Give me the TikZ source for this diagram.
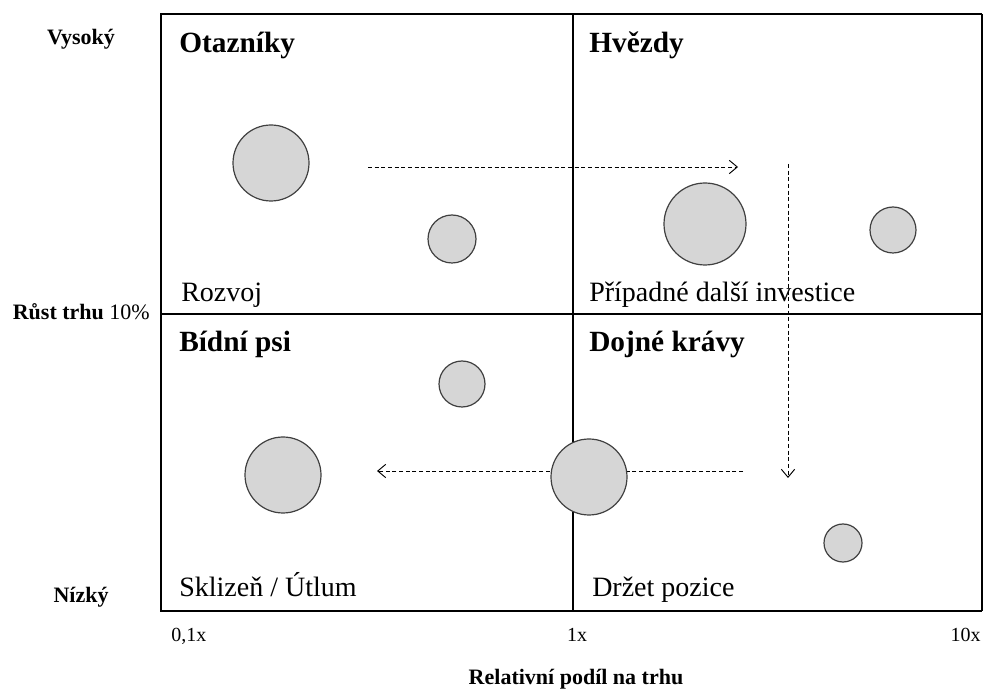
\documentclass[tikz,border=0pt]{standalone}
\usepackage{fontspec}
\setmainfont{Liberation Serif}
\usetikzlibrary{arrows.meta}
\begin{document}
\begin{tikzpicture}[x=0.75pt,y=-0.75pt,
  bubble/.style={circle,draw=black!75,line width=0.9pt,fill=black!16,inner sep=0pt},
  flow/.style={densely dashed,line width=0.7pt,-{Straight Barb[length=6pt,width=10pt]}},
  heading/.style={font=\bfseries\fontsize{22}{24}\selectfont,anchor=base west,inner sep=0pt},
  action/.style={font=\fontsize{21}{23}\selectfont,anchor=base west,inner sep=0pt},
  axislab/.style={font=\bfseries\fontsize{16.5}{18}\selectfont,anchor=base,inner sep=0pt},
  ticklab/.style={font=\fontsize{15}{17}\selectfont,anchor=base,inner sep=0pt}]
\useasboundingbox (0,0) rectangle (983,691);
% frame
\coordinate (tl) at (161,14);
\coordinate (tr) at (982,14);
\coordinate (bl) at (161,611);
\coordinate (br) at (982,611);
\coordinate (mt) at (573,14);
\coordinate (mb) at (573,611);
\coordinate (ml) at (161,314);
\coordinate (mr) at (982,314);
\draw[line width=1pt] (mt) -- (mb);
\draw[line width=1pt] (ml) -- (mr);
\draw[line width=0.8pt] (tr) -- (br);
\draw[line width=2.2pt] (tr) -- (tl) -- (bl) -- (br);
% arrows
\coordinate (a1s) at (368,167);
\coordinate (a1e) at (738,167);
\coordinate (a2s) at (788,164);
\coordinate (a2e) at (788,478);
\coordinate (a3s) at (743,471);
\coordinate (a3e) at (377,471);
\draw[flow] (a1s) -- (a1e);
\draw[flow] (a2s) -- (a2e);
\draw[flow] (a3s) -- (a3e);
% bubbles
\node[bubble,minimum size=76pt*0.75] (b1) at (271,163) {};
\node[bubble,minimum size=48pt*0.75] (b2) at (452,239) {};
\node[bubble,minimum size=82pt*0.75] (b3) at (705,224) {};
\node[bubble,minimum size=46pt*0.75] (b4) at (893,230) {};
\node[bubble,minimum size=46pt*0.75] (b5) at (462,384) {};
\node[bubble,minimum size=76pt*0.75] (b6) at (283,475) {};
\node[bubble,minimum size=76pt*0.75] (b7) at (589,477) {};
\node[bubble,minimum size=38pt*0.75] (b8) at (843,543) {};
% headings
\node[heading] (h1) at (179,53) {Otazníky};
\node[heading] (h2) at (589,53) {Hvězdy};
\node[heading] (h3) at (179,352) {Bídní psi};
\node[heading] (h4) at (589,352) {Dojné krávy};
% actions
\node[action] (t1) at (181,302) {Rozvoj};
\node[action] (t2) at (589,302) {Případné další investice};
\node[action] (t3) at (179,597) {Sklizeň / Útlum};
\node[action] (t4) at (592,597) {Držet pozice};
% axis labels
\node[axislab] (y1) at (81,45) {Vysoký};
\node[axislab,anchor=base east] (y2) at (150,320) {Růst trhu \mdseries 10\%};
\node[axislab] (y3) at (81,603) {Nízký};
\node[ticklab,anchor=base west] (x1) at (171,642) {0,1x};
\node[ticklab] (x2) at (577,642) {1x};
\node[ticklab,anchor=base east] (x3) at (981,642) {10x};
\node[axislab] (x4) at (576,685) {Relativní podíl na trhu};
\end{tikzpicture}
\end{document}
